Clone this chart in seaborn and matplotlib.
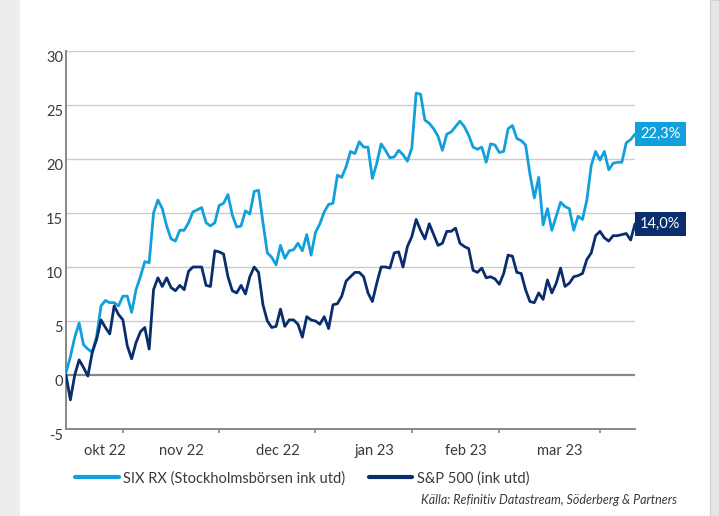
import numpy as np
import pandas as pd
import matplotlib
matplotlib.use('Agg')
import matplotlib.pyplot as plt
from matplotlib.patches import Rectangle
from matplotlib.lines import Line2D
import seaborn as sns

# Daily (weekday) returns since start, in %
start_date = '2022-10-13'
six_rx = [
    0.2, 1.7, 3.5, 4.8, 2.8, 2.4, 2.1, 3.6, 6.4, 6.9,
    6.7, 6.7, 6.4, 7.3, 7.3, 5.8, 7.9, 9.1, 10.5, 10.4,
    15.0, 16.2, 15.4, 13.8, 12.6, 12.4, 13.4, 13.4, 14.1, 15.1,
    15.3, 15.5, 14.1, 13.8, 14.1, 15.7, 15.9, 16.7, 14.8, 13.7,
    13.8, 15.2, 14.9, 17.0, 17.1, 14.1, 11.3, 10.9, 10.2, 12.0,
    10.8, 11.5, 11.6, 12.2, 11.5, 13.0, 11.1, 13.2, 14.0, 15.1,
    15.8, 15.9, 18.5, 18.3, 19.3, 20.7, 20.5, 21.6, 21.1, 21.1,
    18.2, 19.6, 21.4, 20.8, 20.1, 20.2, 20.8, 20.4, 19.8, 21.0,
    26.1, 26.0, 23.6, 23.3, 22.8, 22.1, 20.8, 22.3, 22.5, 23.0,
    23.5, 23.0, 22.2, 21.1, 20.9, 21.1, 19.7, 21.4, 21.3, 20.6,
    20.7, 22.8, 23.1, 21.9, 21.7, 21.3, 18.6, 16.4, 18.3, 13.9,
    15.4, 13.4, 14.7, 16.0, 15.6, 15.4, 13.4, 14.7, 14.4, 16.2,
    19.4, 20.7, 19.9, 20.7, 19.0, 19.6, 19.7, 19.7, 21.5, 21.8,
    22.3,
]
sp500 = [
    0.0, -2.3, 0.0, 1.4, 0.7, -0.1, 2.1, 3.3, 5.1, 4.4,
    3.8, 6.4, 5.6, 5.1, 2.7, 1.5, 3.0, 4.0, 4.4, 2.4,
    7.9, 9.0, 8.2, 9.0, 8.1, 7.8, 8.3, 7.9, 9.6, 10.0,
    10.0, 10.0, 8.3, 8.2, 11.5, 11.4, 11.2, 9.1, 7.8, 7.6,
    8.3, 7.5, 9.1, 10.0, 9.5, 6.5, 5.0, 4.4, 4.5, 6.1,
    4.5, 5.1, 5.1, 4.7, 3.5, 5.4, 5.1, 5.0, 4.7, 5.4,
    4.3, 6.5, 6.6, 7.3, 8.7, 9.1, 9.5, 9.5, 9.1, 7.6,
    6.8, 8.5, 10.0, 10.0, 9.9, 11.3, 11.4, 10.0, 11.9, 12.8,
    14.4, 13.4, 12.6, 14.0, 13.0, 12.0, 12.2, 13.3, 13.3, 13.6,
    12.2, 11.9, 11.7, 9.7, 9.5, 9.9, 9.0, 9.1, 8.9, 8.4,
    9.4, 11.1, 11.0, 9.5, 9.4, 7.9, 6.8, 6.7, 7.6, 7.0,
    8.8, 7.6, 8.5, 9.9, 8.2, 8.5, 9.1, 9.2, 9.4, 10.7,
    11.3, 12.9, 13.3, 12.7, 12.4, 12.9, 12.9, 13.0, 13.1, 12.5,
    14.0,
]
series_names = ['SIX RX (Stockholmsbörsen ink utd)', 'S&P 500 (ink utd)']
month_labels = ['okt 22', 'nov 22', 'dec 22', 'jan 23', 'feb 23', 'mar 23']
y_ticks = [-5, 0, 5, 10, 15, 20, 25, 30]
source_text = 'Källa: Refinitiv Datastream, Söderberg & Partners'

colors = ['#12a0dd', '#0a2d6e']
text_color = '#3a3a3a'

dates = pd.bdate_range(start_date, periods=len(six_rx))
df = pd.DataFrame({
    'day': np.concatenate([np.arange(len(six_rx)), np.arange(len(sp500))]),
    'value': six_rx + sp500,
    'series': [series_names[0]] * len(six_rx) + [series_names[1]] * len(sp500),
})

sns.set_theme(style='white')
plt.rcParams['font.family'] = ['Lato', 'DejaVu Sans']

fig = plt.figure(figsize=(7.19, 5.16), dpi=100)
ax = fig.add_axes([66 / 719, 1 - 429 / 516, (635 - 66) / 719, (429 - 51) / 516])

# grey page edges
fig.patches.append(Rectangle((0, 0), 20 / 719, 1, transform=fig.transFigure,
                             facecolor='#ededed', edgecolor='none', zorder=-5))
fig.patches.append(Rectangle((710 / 719, 0), 9 / 719, 1, transform=fig.transFigure,
                             facecolor='#e6e6e6', edgecolor='#d0d0d0', lw=0.8, zorder=-5))

for y in y_ticks[2:]:
    ax.axhline(y, color='#cccccc', lw=1.0, zorder=0)
ax.axhline(0, color='#878787', lw=1.6, zorder=1)

sns.lineplot(data=df, x='day', y='value', hue='series', hue_order=series_names,
             palette=colors, linewidth=2.0, ax=ax, legend=False, zorder=3)

ax.set_xlim(0, len(six_rx) - 1)
ax.set_ylim(-5, 30)
ax.set_xlabel('')
ax.set_ylabel('')

# month boundaries as tick marks, month names in the middle of each month
month_start = [i for i in range(1, len(dates)) if dates[i].month != dates[i - 1].month]
edges = [0] + month_start
label_pos = [(edges[k] + edges[k + 1]) / 2 + 2.4 for k in range(len(month_labels))]
ax.set_xticks(month_start)
ax.set_xticklabels([])
ax.set_xticks(label_pos, minor=True)
ax.set_xticklabels(month_labels, minor=True)
ax.tick_params(axis='x', which='major', length=3, width=1.2, color='#878787', direction='out', bottom=True)
ax.tick_params(axis='x', which='minor', length=0, pad=11, labelsize=10.5, labelcolor=text_color)

ax.set_yticks(y_ticks)
ax.set_yticklabels([str(v) for v in y_ticks])
ax.tick_params(axis='y', length=0, pad=2, labelsize=10.5, labelcolor=text_color)
for lab in ax.get_yticklabels():
    lab.set_verticalalignment('top')

for side in ['top', 'right']:
    ax.spines[side].set_visible(False)
for side in ['left', 'bottom']:
    ax.spines[side].set_color('#878787')
    ax.spines[side].set_linewidth(1.4)

# end value boxes
last_vals = [six_rx[-1], sp500[-1]]
for val, col in zip(last_vals, colors):
    ax.text(1.009, val, f'{val:.1f}%'.replace('.', ','), transform=ax.get_yaxis_transform(),
            ha='left', va='center', color='white', fontsize=10.5, clip_on=False,
            bbox=dict(boxstyle='square,pad=0.35', facecolor=col, edgecolor='none'))

handles = [Line2D([], [], color=c, lw=3) for c in colors]
fig.legend(handles, series_names, loc='upper left', bbox_to_anchor=(62 / 719, 1 - 458 / 516),
           ncol=2, frameon=False, fontsize=10.5, handlelength=3.0, handletextpad=0.3,
           columnspacing=1.6, labelcolor=text_color)

fig.text(677 / 719, 1 - 500 / 516, source_text, ha='right', va='center',
         fontsize=9, style='italic', color=text_color)

fig.savefig('out.png', dpi=100)
